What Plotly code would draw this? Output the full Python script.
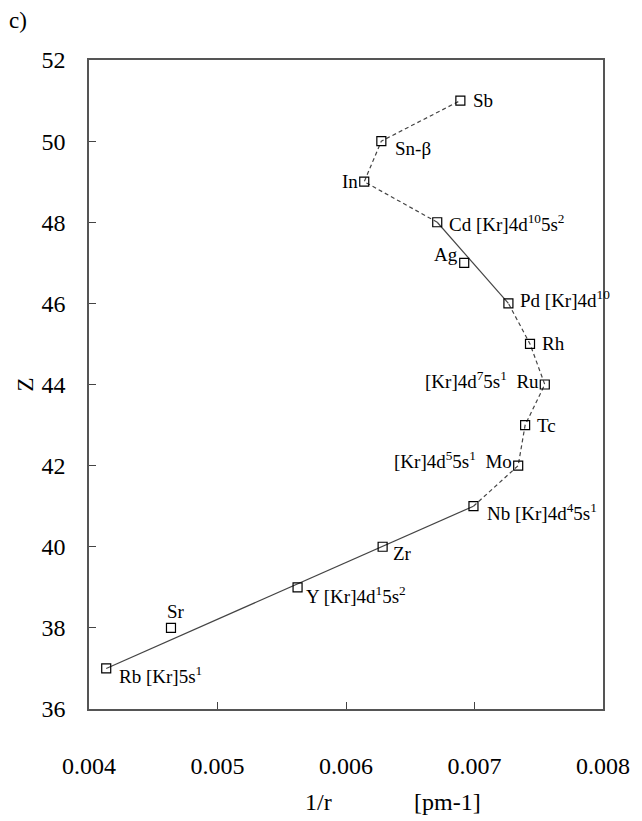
import plotly.graph_objects as go

# ---- data ----
elements = ["Rb", "Sr", "Y", "Zr", "Nb", "Mo", "Tc", "Ru", "Rh", "Pd", "Ag", "Cd", "In", "Sn-β", "Sb"]
Z = [37, 38, 39, 40, 41, 42, 43, 44, 45, 46, 47, 48, 49, 50, 51]
inv_r = [0.004134, 0.004638, 0.005623, 0.006285, 0.006992, 0.007340, 0.007394,
         0.007547, 0.007432, 0.007264, 0.006920, 0.006710, 0.006142, 0.006275, 0.006890]
point_labels = [
    "Rb [Kr]5s<sup>1</sup>", "Sr", "Y [Kr]4d<sup>1</sup>5s<sup>2</sup>", "Zr",
    "Nb [Kr]4d<sup>4</sup>5s<sup>1</sup>", "[Kr]4d<sup>5</sup>5s<sup>1</sup>  Mo", "Tc",
    "[Kr]4d<sup>7</sup>5s<sup>1</sup>  Ru", "Rh", "Pd [Kr]4d<sup>10</sup>", "Ag",
    "Cd [Kr]4d<sup>10</sup>5s<sup>2</sup>", "In", "Sn-β", "Sb",
]
x_ticks = [0.004, 0.005, 0.006, 0.007, 0.008]
y_ticks = [36, 38, 40, 42, 44, 46, 48, 50, 52]

# segments (index ranges into the arrays) and their styles
segments = [((0, 4), "solid"), ((4, 9), "dashed"), ((9, 11), "solid"), ((11, 14), "dashed")]

FONT = "Times New Roman, Liberation Serif, DejaVu Serif, serif"
LINE_COLOR = "#444444"

fig = go.Figure()
for (a, b), style in segments:
    if style == "solid":
        xs = [inv_r[a], inv_r[b]]
        ys = [Z[a], Z[b]]
        dash = "solid"
    else:
        xs = inv_r[a:b + 1]
        ys = Z[a:b + 1]
        dash = "4px,3px"
    fig.add_trace(go.Scatter(x=xs, y=ys, mode="lines",
                             line=dict(color=LINE_COLOR, width=1.2, dash=dash),
                             showlegend=False, hoverinfo="skip"))

fig.add_trace(go.Scatter(x=inv_r, y=Z, mode="markers",
                         marker=dict(symbol="square-open", size=9, color="black",
                                     line=dict(width=1.2, color="black")),
                         text=elements, showlegend=False))

# label placement (style only): anchor, xshift, yshift
placement = {
    "Rb": ("left", 11, -7), "Sr": ("center", 5, 16), "Y": ("left", 6, -8),
    "Zr": ("left", 8, -7), "Nb": ("left", 12, -6), "Mo": ("right", -4, 6),
    "Tc": ("left", 10, 0), "Ru": ("right", -4, 5), "Rh": ("left", 10, 0),
    "Pd": ("left", 10, 4), "Ag": ("right", -4, 8), "Cd": ("left", 10, -1),
    "In": ("right", -4, 0), "Sn-β": ("left", 12, -7), "Sb": ("left", 11, 0),
}
annotations = []
for el, x, y, t in zip(elements, inv_r, Z, point_labels):
    anc, dx, dy = placement[el]
    annotations.append(dict(x=x, y=y, xref="x", yref="y", text=t, showarrow=False,
                            xanchor=anc, yanchor="middle", xshift=dx, yshift=dy,
                            font=dict(family=FONT, size=19, color="black")))

# axis titles and panel label
annotations += [
    dict(text="Z", xref="paper", yref="paper", x=0, y=0.5, xshift=-64, showarrow=False,
         xanchor="center", yanchor="middle",
         textangle=-90, font=dict(family=FONT, size=23, color="black")),
    dict(text="1/r", xref="paper", yref="paper", x=(324 - 89) / 526, y=0, yshift=-93,
         showarrow=False, xanchor="center", yanchor="middle",
         font=dict(family=FONT, size=24, color="black")),
    dict(text="[pm-1]", xref="paper", yref="paper", x=(456 - 89) / 526, y=0, yshift=-93,
         showarrow=False, xanchor="center", yanchor="middle",
         font=dict(family=FONT, size=24, color="black")),
    dict(text="c)", xref="paper", yref="paper", x=0, y=1, xshift=-71, yshift=40,
         showarrow=False, xanchor="center", yanchor="middle",
         font=dict(family=FONT, size=23, color="black")),
]

axis_common = dict(showgrid=False, zeroline=False, showline=True, linecolor="#555555",
                   linewidth=1.5, mirror=True, ticks="inside", ticklen=7, tickwidth=1.2,
                   tickcolor="#444444",
                   tickfont=dict(family=FONT, size=24, color="black"))

# the page adds an 8px body margin, so the figure is 8px smaller than the window
fig.update_layout(
    width=634, height=813,
    margin=dict(l=81, r=27, t=52, b=112),
    paper_bgcolor="white", plot_bgcolor="white",
    font=dict(family=FONT, color="black"),
    xaxis=dict(range=[0.004, 0.008], tickvals=x_ticks,
               ticktext=[f"{v:.3f}" for v in x_ticks], ticklabelstandoff=34,
               **axis_common),
    yaxis=dict(range=[36, 52], tickvals=y_ticks, ticktext=[str(v) for v in y_ticks],
               ticklabelstandoff=17, **axis_common),
    annotations=annotations,
)

fig.write_html("out.html")
